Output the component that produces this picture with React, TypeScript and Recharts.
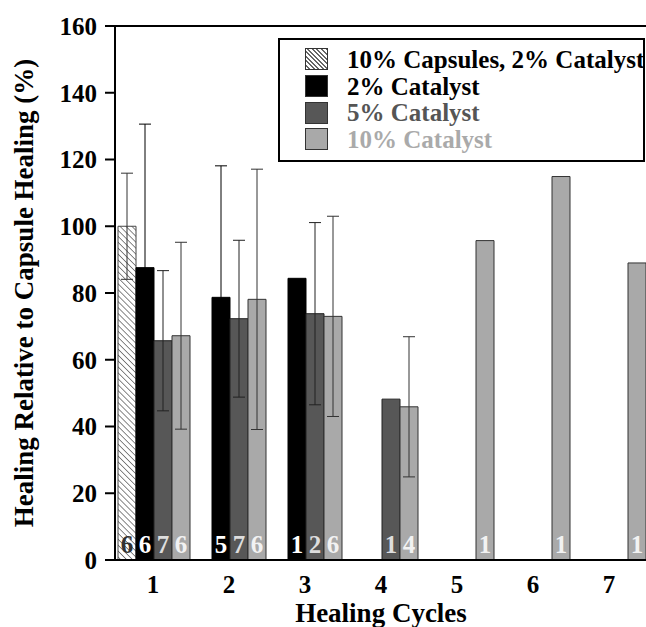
import { BarChart, Bar, XAxis, YAxis, ErrorBar, LabelList, Label, Legend, ReferenceLine } from 'recharts';

const cycles = ['1', '2', '3', '4', '5', '6', '7'];

const capsules10 = [100, null, null, null, null, null, null];
const capsules10Err = [15.9, null, null, null, null, null, null];
const capsules10N = [6, null, null, null, null, null, null];

const catalyst2 = [87.6, 78.7, 84.4, null, null, null, null];
const catalyst2Err = [43, 39.4, null, null, null, null, null];
const catalyst2N = [6, 5, 1, null, null, null, null];

const catalyst5 = [65.7, 72.3, 73.8, 48.2, null, null, null];
const catalyst5Err = [21, 23.5, 27.3, null, null, null, null];
const catalyst5N = [7, 7, 2, 1, null, null, null];

const catalyst10 = [67.2, 78.1, 73, 45.9, 95.7, 114.9, 89];
const catalyst10Err = [28, 39, 30, 21, null, null, null];
const catalyst10N = [6, 6, 6, 4, 1, 1, 1];

const seriesNames = ['10% Capsules, 2% Catalyst', '2% Catalyst', '5% Catalyst', '10% Catalyst'];
const yTicks = [0, 20, 40, 60, 80, 100, 120, 140, 160];

const data = cycles.map((cycle, i) => ({
  cycle,
  cap: capsules10[i],
  capErr: capsules10Err[i],
  capN: capsules10N[i],
  c2: catalyst2[i],
  c2Err: catalyst2Err[i],
  c2N: catalyst2N[i],
  c5: catalyst5[i],
  c5Err: catalyst5Err[i],
  c5N: catalyst5N[i],
  c10: catalyst10[i],
  c10Err: catalyst10Err[i],
  c10N: catalyst10N[i],
}));

const serif = "'Liberation Serif', 'Times New Roman', serif";
const DARK = '#575757';
const LIGHT = '#a9a9a9';

const legendSwatches = [
  { background: 'repeating-linear-gradient(45deg, #fff 0px, #fff 2px, #666 2px, #666 3.2px)' },
  { background: '#000' },
  { background: DARK },
  { background: LIGHT },
];
const legendColors = ['#000', '#000', '#555', '#aaa'];

const renderLegend = () => (
  <div
    style={{
      boxSizing: 'border-box',
      width: 367,
      border: '2px solid #000',
      background: '#fff',
      padding: '6px 0 7px 25px',
      fontFamily: serif,
      fontWeight: 700,
      fontSize: 25,
    }}
  >
    {seriesNames.map((name, i) => (
      <div key={name} style={{ display: 'flex', alignItems: 'center', height: 26.7 }}>
        <div
          style={{
            boxSizing: 'border-box',
            width: 23,
            height: 22,
            border: '1px solid #333',
            marginRight: 19,
            flexShrink: 0,
            ...legendSwatches[i],
          }}
        />
        <span style={{ color: legendColors[i], lineHeight: 1, whiteSpace: 'nowrap', fontFamily: serif }}>{name}</span>
      </div>
    ))}
  </div>
);

const YAxisTitle = ({ viewBox }: any) => {
  const cy = viewBox.y + viewBox.height / 2;
  return (
    <text
      x={33}
      y={cy}
      transform={`rotate(-90, 33, ${cy})`}
      textAnchor="middle"
      fontFamily={serif}
      fontWeight={700}
      fontSize={27}
      fill="#000"
    >
      Healing Relative to Capsule Healing (%)
    </text>
  );
};

// sample size printed at the foot of each bar
const countLabel = (color: string) => (props: any) => {
  const { x, y, width, height, value } = props;
  if (value == null) return null;
  return (
    <text
      x={Number(x) + Number(width) / 2}
      y={Number(y) + Number(height) - 7}
      textAnchor="middle"
      fill={color}
      style={{ fontSize: 25, fontWeight: 700, fontFamily: serif }}
    >
      {value}
    </text>
  );
};

const tickStyle = { fill: '#000', fontSize: 25, fontWeight: 700, fontFamily: serif };

export default function App() {
  return (
    <div style={{ position: 'absolute', left: 0, top: 0, width: 646, height: 627, overflow: 'hidden', background: '#fff' }}>
      <BarChart
        width={660}
        height={627}
        data={data}
        margin={{ top: 26, right: 13, bottom: 7, left: 0 }}
        barCategoryGap={3}
        barGap={0}
      >
        <defs>
          <pattern id="hatch" patternUnits="userSpaceOnUse" width="4.2" height="4.2" patternTransform="rotate(-45)">
            <rect width="4.2" height="4.2" fill="#fff" />
            <line x1="0" y1="0" x2="0" y2="4.2" stroke="#555" strokeWidth="1.4" />
          </pattern>
        </defs>
        <XAxis
          dataKey="cycle"
          interval={0}
          tickLine={false}
          axisLine={{ stroke: '#000', strokeWidth: 2 }}
          tick={tickStyle}
          tickMargin={9}
          height={60}
        >
          <Label
            value="Healing Cycles"
            position="insideBottom"
            offset={-2}
            style={{ fill: '#000', fontSize: 27, fontWeight: 700, fontFamily: serif }}
          />
        </XAxis>
        <YAxis
          domain={[0, 160]}
          ticks={yTicks}
          width={115}
          tickSize={10}
          tickMargin={8}
          tickLine={{ stroke: '#000', strokeWidth: 2 }}
          axisLine={{ stroke: '#000', strokeWidth: 2 }}
          tick={tickStyle}
        >
          <Label content={YAxisTitle} />
        </YAxis>
        <ReferenceLine y={160} stroke="#000" strokeWidth={2} />
        <Legend
          layout="vertical"
          align="center"
          verticalAlign="middle"
          content={renderLegend}
          wrapperStyle={{ top: 38, left: 278, width: 367 }}
        />
        <Bar dataKey="cap" name={seriesNames[0]} fill="url(#hatch)" stroke="#444" strokeWidth={1} isAnimationActive={false}>
          <ErrorBar dataKey="capErr" width={6} stroke="#333" strokeWidth={1} />
          <LabelList dataKey="capN" content={countLabel('#333')} />
        </Bar>
        <Bar dataKey="c2" name={seriesNames[1]} fill="#000" stroke="#000" strokeWidth={1} isAnimationActive={false}>
          <ErrorBar dataKey="c2Err" width={6} stroke="#000" strokeWidth={1} />
          <LabelList dataKey="c2N" content={countLabel('#fff')} />
        </Bar>
        <Bar dataKey="c5" name={seriesNames[2]} fill={DARK} stroke="#222" strokeWidth={1} isAnimationActive={false}>
          <ErrorBar dataKey="c5Err" width={6} stroke="#222" strokeWidth={1} />
          <LabelList dataKey="c5N" content={countLabel('#ddd')} />
        </Bar>
        <Bar dataKey="c10" name={seriesNames[3]} fill={LIGHT} stroke="#333" strokeWidth={1} isAnimationActive={false}>
          <ErrorBar dataKey="c10Err" width={6} stroke="#333" strokeWidth={1} />
          <LabelList dataKey="c10N" content={countLabel('#f2f2f2')} />
        </Bar>
      </BarChart>
    </div>
  );
}
